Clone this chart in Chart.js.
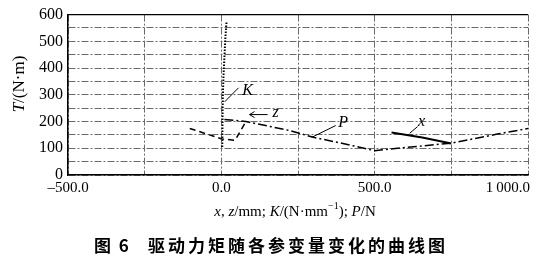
<!DOCTYPE html>
<html><head><meta charset="utf-8">
<script src="https://cdn.jsdelivr.net/npm/chart.js@4"></script>
<style>html,body{margin:0;padding:0;background:#fff;} #wrap{width:547px;height:261px;position:relative;}</style>
</head><body><div id="wrap"><canvas id="c" width="547" height="261"></canvas></div>
<script>
// ---- data ----
const xTickValues = [-500, 0, 500, 1000];
const xTickLabels = ['\u2013500.0', '0.0', '500.0', '1\u2009000.0'];
const yTickValues = [0, 100, 200, 300, 400, 500, 600];

const kStiffness = [3, 3.5, 4, 5, 7, 10, 13, 17];
const kTorque    = [105, 160, 230, 300, 370, 440, 510, 575];

const zDisp   = [-103, 2, 45, 78];
const zTorque = [174, 135, 130, 196];

const pForce  = [10, 80, 220, 300, 400, 500, 600, 750, 900, 1000];
const pTorque = [208, 200, 167, 141, 117, 91, 103, 119, 153, 174];

const xDisp   = [555, 655, 750];
const xTorque = [159, 140, 118];

// label annotations
const annoLabels = ['K', 'z', 'P', 'x'];
const annoText   = [[86, 315], [177, 231], [397, 196], [653, 200]];
const annoLeader = [[11, 274, 56, 326], [151, 226, 92, 226], [295, 141, 373, 185], [614, 156, 640, 181]];
const annoArrow  = [false, true, false, false];

const xTitleRuns = [
  {t: 'x', i: true}, {t: ', ', i: false}, {t: 'z', i: true}, {t: '/mm; ', i: false},
  {t: 'K', i: true}, {t: '/(N\u00B7mm', i: false}, {t: '\u22121', i: false, sup: true},
  {t: '); ', i: false}, {t: 'P', i: true}, {t: '/N', i: false}
];
const yTitleRuns = [{t: 'T', i: true}, {t: '/(N\u00B7m)', i: false}];
const captionA = '\u56FE 6';
const captionB = '\u9A71\u52A8\u529B\u77E9\u968F\u5404\u53C2\u53D8\u91CF\u53D8\u5316\u7684\u66F2\u7EBF\u56FE';

const pts = (xs, ys) => xs.map((v, i) => ({x: v, y: ys[i]}));
const SERIF = '"Liberation Serif", "Times New Roman", serif';

function runFont(r, size) {
  const s = r.sup ? Math.round(size * 0.65) : size;
  return (r.i ? 'italic ' : '') + s + 'px ' + SERIF;
}
function drawRuns(ctx, runs, size, cx, cy) {
  let total = 0;
  runs.forEach(r => { ctx.font = runFont(r, size); total += ctx.measureText(r.t).width; });
  let x = cx - total / 2;
  ctx.textBaseline = 'middle';
  ctx.textAlign = 'left';
  runs.forEach(r => {
    ctx.font = runFont(r, size);
    ctx.fillText(r.t, x, r.sup ? cy - size * 0.35 : cy);
    x += ctx.measureText(r.t).width;
  });
}

const extras = {
  id: 'extras',
  afterDatasetsDraw(chart) {
    const ctx = chart.ctx, sx = chart.scales.x, sy = chart.scales.y;
    ctx.save();
    ctx.strokeStyle = '#000';
    ctx.fillStyle = '#000';
    ctx.lineWidth = 1;
    annoLabels.forEach((lab, i) => {
      const L = annoLeader[i];
      const x1 = sx.getPixelForValue(L[0]), y1 = sy.getPixelForValue(L[1]);
      const x2 = sx.getPixelForValue(L[2]), y2 = sy.getPixelForValue(L[3]);
      ctx.beginPath(); ctx.moveTo(x1, y1); ctx.lineTo(x2, y2); ctx.stroke();
      if (annoArrow[i]) {
        ctx.beginPath();
        ctx.moveTo(x2 + 5, y2 - 3); ctx.lineTo(x2, y2); ctx.lineTo(x2 + 5, y2 + 3);
        ctx.stroke();
      }
      ctx.font = 'italic 16px ' + SERIF;
      ctx.textAlign = 'center';
      ctx.textBaseline = 'middle';
      ctx.fillText(lab, sx.getPixelForValue(annoText[i][0]), sy.getPixelForValue(annoText[i][1]));
    });
    ctx.restore();
  },
  afterDraw(chart) {
    const ctx = chart.ctx, a = chart.chartArea, sx = chart.scales.x;
    ctx.save();
    ctx.strokeStyle = '#000'; ctx.lineWidth = 1.2;
    ctx.beginPath(); ctx.moveTo(a.left, a.top); ctx.lineTo(a.right, a.top); ctx.stroke();
    ctx.fillStyle = '#000';
    ctx.font = '15px ' + SERIF;
    ctx.textBaseline = 'middle';
    ctx.textAlign = 'left';
    xTickValues.forEach((v, i) => {
      const w = ctx.measureText(xTickLabels[i]).width;
      let x = sx.getPixelForValue(v) - w / 2;
      if (x + w > a.right + 2) x = a.right + 2 - w;
      ctx.fillText(xTickLabels[i], x, a.bottom + 13);
    });
    drawRuns(ctx, xTitleRuns, 15, 295, 212);
    ctx.save();
    ctx.translate(20, 84);
    ctx.rotate(-Math.PI / 2);
    drawRuns(ctx, yTitleRuns, 17, 0, 0);
    ctx.restore();
    ctx.font = 'bold 17px "Noto Sans CJK SC", sans-serif';
    ctx.textBaseline = 'middle';
    ctx.textAlign = 'left';
    ctx.letterSpacing = '2px';
    ctx.fillText(captionA, 94, 246);
    ctx.letterSpacing = '3px';
    ctx.fillText(captionB, 148, 246);
    ctx.restore();
  }
};

const gridDash = [7, 2, 2, 2];
new Chart(document.getElementById('c'), {
  type: 'scatter',
  data: {
    datasets: [
      {label: 'K', data: pts(kStiffness, kTorque), borderColor: '#000', borderWidth: 2, borderDash: [1.5, 1.5]},
      {label: 'z', data: pts(zDisp, zTorque), borderColor: '#000', borderWidth: 1.5, borderDash: [6, 4]},
      {label: 'P', data: pts(pForce, pTorque), borderColor: '#000', borderWidth: 1.5, borderDash: [9, 3, 2, 3]},
      {label: 'x', data: pts(xDisp, xTorque), borderColor: '#000', borderWidth: 2}
    ]
  },
  options: {
    responsive: false,
    animation: false,
    devicePixelRatio: 1,
    showLine: true,
    elements: {point: {radius: 0}, line: {tension: 0, fill: false}},
    layout: {padding: {left: 0, right: 19, top: 13, bottom: 0}},
    plugins: {legend: {display: false}, tooltip: {enabled: false}},
    scales: {
      x: {
        type: 'linear', min: -500, max: 1000,
        ticks: {stepSize: 250, display: false, autoSkip: false},
        grid: {color: '#6a6a6a', lineWidth: 1, drawTicks: false},
        border: {display: true, color: '#000', width: 1.5, dash: gridDash},
        afterFit(s) { s.height = 86; s.paddingLeft = 0; s.paddingRight = 0; }
      },
      y: {
        type: 'linear', min: 0, max: 600,
        ticks: {
          stepSize: 50, padding: 5, color: '#000', autoSkip: false,
          font: {family: SERIF, size: 16},
          callback: v => yTickValues.includes(v) ? String(v) : ''
        },
        grid: {color: '#6a6a6a', lineWidth: 1, drawTicks: false},
        border: {display: true, color: '#000', width: 1.5, dash: gridDash},
        afterFit(s) { s.width = 68; }
      }
    }
  },
  plugins: [extras]
});
</script>
</body></html>
